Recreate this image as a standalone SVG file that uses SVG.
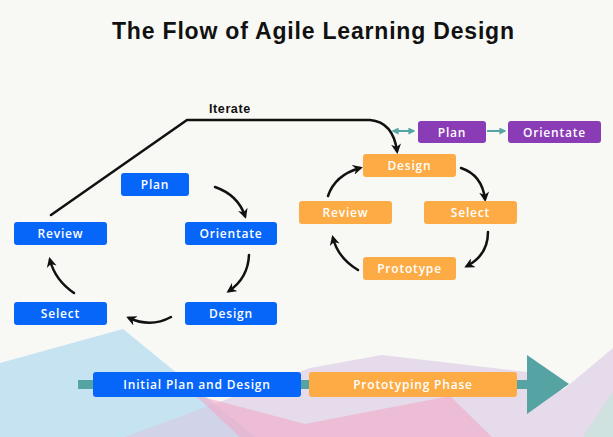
<svg xmlns="http://www.w3.org/2000/svg" width="613" height="437" viewBox="0 0 613 437">
<defs>
<style>
.bg{fill:#f8f8f4}
.blue{fill:#0766fa}
.orange{fill:#fdab44}
.purple{fill:#8a3bb6}
.lbl{font-family:"Open Sans","Liberation Sans",sans-serif;font-weight:600;font-size:12px;fill:#ffffff;text-anchor:middle;letter-spacing:0.8px}
.title{font-family:"Liberation Sans","Open Sans",sans-serif;font-weight:700;font-size:23px;fill:#111111;text-anchor:middle}
.iter{font-family:"Liberation Sans","Open Sans",sans-serif;font-weight:700;font-size:12.5px;fill:#111111;letter-spacing:0.6px}
.arc{fill:none;stroke:#111111;stroke-width:2.5;stroke-linecap:round}
.tl{fill:none;stroke:#55a5a5;stroke-width:2}
</style>
<marker id="ah" viewBox="0 0 10 10" refX="7" refY="5" markerWidth="10" markerHeight="10" markerUnits="userSpaceOnUse" orient="auto">
<path d="M0,0 L10,5 L0,10 L3,5 z" fill="#111111"/>
</marker>
<marker id="th" viewBox="0 0 10 10" refX="8" refY="5" markerWidth="7" markerHeight="7" markerUnits="userSpaceOnUse" orient="auto-start-reverse">
<path d="M0,0 L10,5 L0,10 z" fill="#55a5a5"/>
</marker>
</defs>
<rect class="bg" x="0" y="0" width="613" height="437"/>
<g id="background">
<polygon points="0,363 123,329 255,437 0,437" fill="#c6e3f2"/>
<polygon points="125,437 310,368 382,355 527,372 563,390 613,348 613,437" fill="#d8c8e2" fill-opacity="0.6"/>
<polygon points="195,395 305,424 450,396 492,437 240,437" fill="#f0a8c4" fill-opacity="0.6"/>
<polygon points="583,437 613,392 613,437" fill="#cfe2df"/>
</g>
<text class="title" x="313" y="39" textLength="402" lengthAdjust="spacing">The Flow of Agile Learning Design</text>
<g id="connectors">
<path class="arc" d="M51,215 L187,120 L370,120 Q393,122 397,151" marker-end="url(#ah)"/>
<path class="arc" d="M215,187 Q238,195 245,216" marker-end="url(#ah)"/>
<path class="arc" d="M249,255 Q248,278 229,291" marker-end="url(#ah)"/>
<path class="arc" d="M171,317 Q151,328 129,318" marker-end="url(#ah)"/>
<path class="arc" d="M74,293 Q55,280 50,260" marker-end="url(#ah)"/>
<path class="arc" d="M461,168 Q482,175 485,199" marker-end="url(#ah)"/>
<path class="arc" d="M488,232 Q488,255 467,266" marker-end="url(#ah)"/>
<path class="arc" d="M358,270 Q338,258 333,238" marker-end="url(#ah)"/>
<path class="arc" d="M328,196 Q335,175 360,168" marker-end="url(#ah)"/>
<line class="tl" x1="393" y1="131" x2="414" y2="131" marker-start="url(#th)" marker-end="url(#th)"/>
<line class="tl" x1="487" y1="131" x2="505" y2="131" marker-end="url(#th)"/>
<rect x="78" y="380" width="452" height="9" fill="#55a3a3"/>
<polygon points="527,355 527,414 569,384" fill="#55a3a3"/>
</g>
<text class="iter" x="209" y="113">Iterate</text>
<g id="b-plan"><rect class="blue" x="121" y="173" width="68" height="23" rx="3"/><text class="lbl" x="155" y="189">Plan</text></g>
<g id="b-review"><rect class="blue" x="14" y="222" width="93" height="23" rx="3"/><text class="lbl" x="60.5" y="238">Review</text></g>
<g id="b-orientate"><rect class="blue" x="185" y="222" width="92" height="23" rx="3"/><text class="lbl" x="231" y="238">Orientate</text></g>
<g id="b-select"><rect class="blue" x="14" y="302" width="93" height="23" rx="3"/><text class="lbl" x="60.5" y="318">Select</text></g>
<g id="b-design"><rect class="blue" x="185" y="302" width="92" height="23" rx="3"/><text class="lbl" x="231" y="318">Design</text></g>
<g id="o-design"><rect class="orange" x="363" y="154" width="93" height="23" rx="3"/><text class="lbl" x="409.5" y="170">Design</text></g>
<g id="o-review"><rect class="orange" x="299" y="201" width="93" height="23" rx="3"/><text class="lbl" x="345.5" y="217">Review</text></g>
<g id="o-select"><rect class="orange" x="424" y="201" width="93" height="23" rx="3"/><text class="lbl" x="470.5" y="217">Select</text></g>
<g id="o-prototype"><rect class="orange" x="363" y="257" width="93" height="23" rx="3"/><text class="lbl" x="409.5" y="273">Prototype</text></g>
<g id="p-plan"><rect class="purple" x="418" y="121" width="68" height="22" rx="3"/><text class="lbl" x="452" y="136.5">Plan</text></g>
<g id="p-orientate"><rect class="purple" x="508" y="121" width="93" height="22" rx="3"/><text class="lbl" x="554.5" y="136.5">Orientate</text></g>
<g id="phase-initial"><rect class="blue" x="93" y="372" width="208" height="25" rx="3"/><text class="lbl" x="197" y="389">Initial Plan and Design</text></g>
<g id="phase-proto"><rect class="orange" x="309" y="372" width="208" height="25" rx="3"/><text class="lbl" x="413" y="389">Prototyping Phase</text></g>
</svg>
